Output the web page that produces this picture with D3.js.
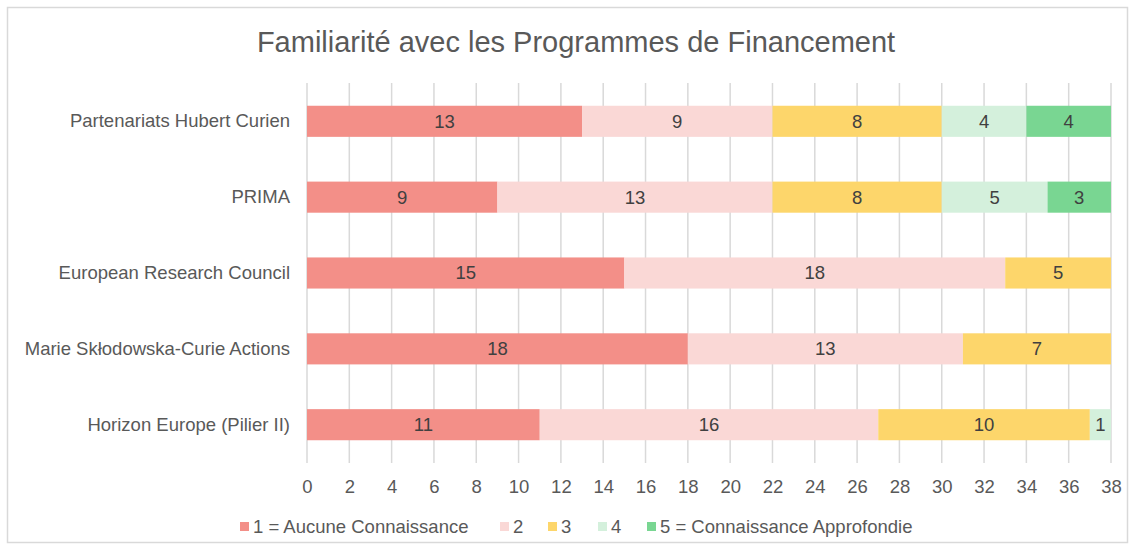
<!DOCTYPE html>
<html>
<head>
<meta charset="utf-8">
<script src="https://cdn.jsdelivr.net/npm/d3@7"></script>
<style>
  body { margin: 0; background: #fff; }
  text { font-family: "Liberation Sans", Arial, sans-serif; }
</style>
</head>
<body>
<div id="chart"></div>
<script>
// data
const categories = ["Partenariats Hubert Curien", "PRIMA", "European Research Council", "Marie Skłodowska-Curie Actions", "Horizon Europe (Pilier II)"];
const seriesNames = ["1 = Aucune Connaissance", "2", "3", "4", "5 = Connaissance Approfondie"];
const level1 = [13, 9, 15, 18, 11];
const level2 = [9, 13, 18, 13, 16];
const level3 = [8, 8, 5, 7, 10];
const level4 = [4, 5, 0, 0, 1];
const level5 = [4, 3, 0, 0, 0];
const xTicks = d3.range(0, 39, 2);
const colors = ["#f38f88", "#fad8d6", "#fdd66b", "#d4f0dc", "#79d692"];

let width = 1135, height = 550;
let margin = {top: 83, right: 24, bottom: 87, left: 307};
let fontSize = 18.5;

let svg = d3.select("#chart").append("svg")
    .attr("width", width)
    .attr("height", height);

// outer border
svg.append("rect")
    .attr("x", 7.5).attr("y", 7.5)
    .attr("width", width - 15).attr("height", height - 15)
    .attr("fill", "#fff")
    .attr("stroke", "#d9d9d9")
    .attr("stroke-width", 1.5);

svg.append("text")
    .attr("x", 576)
    .attr("y", 52)
    .attr("text-anchor", "middle")
    .attr("font-size", 29)
    .attr("fill", "#595959")
    .text("Familiarité avec les Programmes de Financement");

let x = d3.scaleLinear().domain([0, 38]).range([margin.left, width - margin.right]);
let y = d3.scaleBand().domain(categories).range([margin.top, height - margin.bottom]).paddingInner(0.59).paddingOuter(0.3);

// gridlines
svg.append("g")
    .selectAll("line")
    .data(xTicks)
    .enter().append("line")
    .attr("x1", d => x(d)).attr("x2", d => x(d))
    .attr("y1", margin.top).attr("y2", height - margin.bottom)
    .attr("stroke", "#d9d9d9")
    .attr("stroke-width", 1.5);

// x axis labels
let xAxis = svg.append("g")
    .attr("transform", "translate(0," + (height - margin.bottom) + ")")
    .call(d3.axisBottom(x).tickValues(xTicks).tickSize(0).tickPadding(17));
xAxis.select(".domain").remove();
xAxis.selectAll("text").attr("font-size", fontSize).attr("fill", "#595959")
    .style("font-family", '"Liberation Sans", Arial, sans-serif');

// y labels
let yAxis = svg.append("g")
    .attr("transform", "translate(" + margin.left + ",0)")
    .call(d3.axisLeft(y).tickSize(0).tickPadding(17));
yAxis.select(".domain").remove();
yAxis.selectAll("text").attr("font-size", fontSize).attr("fill", "#595959")
    .style("font-family", '"Liberation Sans", Arial, sans-serif');

// stacked bars
let rows = categories.map((c, i) => ({
  cat: c, s0: level1[i], s1: level2[i], s2: level3[i], s3: level4[i], s4: level5[i]
}));
let stack = d3.stack().keys(["s0", "s1", "s2", "s3", "s4"])(rows);

let layers = svg.append("g").selectAll("g")
    .data(stack)
    .enter().append("g")
    .attr("fill", (d, i) => colors[i]);

layers.selectAll("rect")
    .data(d => d.filter(p => p[1] - p[0] > 0))
    .enter().append("rect")
    .attr("x", d => x(d[0]))
    .attr("y", d => y(d.data.cat))
    .attr("width", d => x(d[1]) - x(d[0]))
    .attr("height", y.bandwidth());

layers.selectAll("text")
    .data(d => d.filter(p => p[1] - p[0] > 0))
    .enter().append("text")
    .attr("x", d => (x(d[0]) + x(d[1])) / 2)
    .attr("y", d => y(d.data.cat) + y.bandwidth() / 2)
    .attr("dy", "0.35em")
    .attr("text-anchor", "middle")
    .attr("font-size", fontSize)
    .attr("fill", "#404040")
    .text(d => d[1] - d[0]);

// legend
let legendX = [240, 500, 548, 598, 647];
let legend = svg.append("g").selectAll("g")
    .data(seriesNames)
    .enter().append("g")
    .attr("transform", (d, i) => "translate(" + legendX[i] + ",522)");
legend.append("rect")
    .attr("width", 9).attr("height", 9)
    .attr("fill", (d, i) => colors[i]);
legend.append("text")
    .attr("x", 13).attr("y", 5)
    .attr("dy", "0.35em")
    .attr("font-size", fontSize)
    .attr("fill", "#595959")
    .text(d => d);
</script>
</body>
</html>
